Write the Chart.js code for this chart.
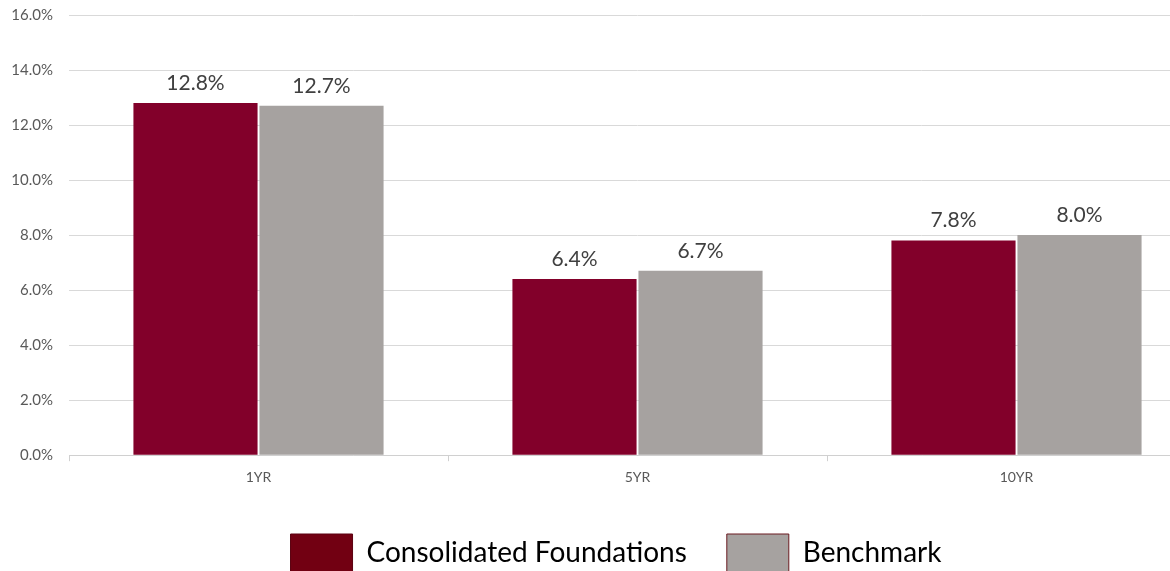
<!DOCTYPE html>
<html>
<head>
<meta charset="utf-8">
<script src="https://cdn.jsdelivr.net/npm/chart.js@4.4.1/dist/chart.umd.min.js"></script>
<style>
  html, body { margin: 0; padding: 0; background: #fff; overflow: hidden; }
  #wrap { width: 1206px; height: 592px; margin-top: -10px; }
</style>
</head>
<body>
<div id="wrap"><canvas id="chart"></canvas></div>
<script>
const categories = ['1YR', '5YR', '10YR'];
const foundations = [12.8, 6.4, 7.8];
const benchmark = [12.7, 6.7, 8.0];
const seriesNames = ['Consolidated Foundations', 'Benchmark'];

const RED = '#82002A';
const GRAY = '#A6A2A0';
const FONT = 'Lato, "Liberation Sans", sans-serif';

// writes the value above each bar
const barValues = {
  id: 'barValues',
  afterDatasetsDraw(chart) {
    const ctx = chart.ctx;
    ctx.save();
    ctx.font = '21px ' + FONT;
    ctx.fillStyle = '#404040';
    ctx.textAlign = 'center';
    ctx.textBaseline = 'middle';
    chart.data.datasets.forEach((ds, i) => {
      chart.getDatasetMeta(i).data.forEach((bar, j) => {
        ctx.fillText(ds.data[j].toFixed(1) + '%', bar.x, bar.y - 20);
      });
    });
    ctx.restore();
  }
};

// nudges the legend a little to the right of the canvas centre
const legendShift = {
  id: 'legendShift',
  afterLayout(chart) {
    chart.legend.left += 13;
    chart.legend.right += 13;
  }
};

new Chart(document.getElementById('chart'), {
  type: 'bar',
  data: {
    labels: categories,
    datasets: [
      { label: seriesNames[0], data: foundations, backgroundColor: RED },
      { label: seriesNames[1], data: benchmark, backgroundColor: GRAY }
    ]
  },
  options: {
    responsive: true,
    maintainAspectRatio: false,
    animation: false,
    datasets: {
      bar: { barPercentage: 0.985, categoryPercentage: 0.665 }
    },
    plugins: {
      tooltip: { enabled: false },
      legend: {
        position: 'bottom',
        labels: {
          boxWidth: 62,
          boxHeight: 38,
          padding: 40,
          color: '#000',
          font: { family: FONT, size: 28 },
          generateLabels() {
            return [
              { text: seriesNames[0], fillStyle: '#720012', strokeStyle: '#5a0010', lineWidth: 1, datasetIndex: 0 },
              { text: seriesNames[1], fillStyle: GRAY, strokeStyle: '#6a1a20', lineWidth: 1, datasetIndex: 1 }
            ];
          }
        }
      }
    },
    scales: {
      x: {
        offset: true,
        grid: { offset: true, drawOnChartArea: false, tickLength: 6, color: '#d0d0d0' },
        border: { color: '#d0d0d0' },
        ticks: { color: '#595959', font: { family: FONT, size: 14 }, padding: 8 }
      },
      y: {
        min: 0,
        max: 16,
        afterFit(scale) { scale.width = 69; },
        grid: { color: '#d9d9d9', drawTicks: false },
        border: { display: false },
        ticks: {
          stepSize: 2,
          padding: 16,
          color: '#595959',
          font: { family: FONT, size: 15 },
          callback: (v) => v.toFixed(1) + '%'
        }
      }
    }
  },
  plugins: [barValues, legendShift]
});
</script>
</body>
</html>
